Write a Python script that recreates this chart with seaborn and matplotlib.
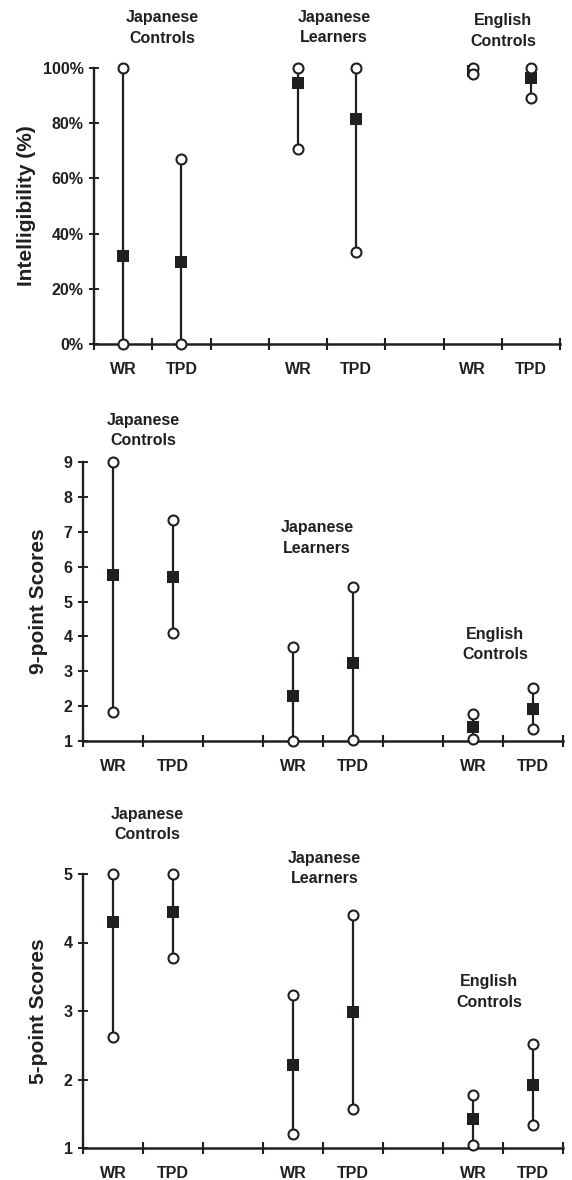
import matplotlib
matplotlib.use("Agg")
from matplotlib import pyplot as plt
import numpy as np
import pandas as pd
import seaborn as sns

# groups and conditions on the x axis
groups = ["Japanese\nControls", "Japanese\nLearners", "English\nControls"]
conditions = ["WR", "TPD"]

# intelligibility (%): mean, max, min per group x condition
intel_mean = [31.8, 29.7, 94.7, 81.5, 99.0, 96.4]
intel_max = [100, 67.1, 100, 100, 100, 100]
intel_min = [0, 0, 70.7, 33.4, 97.7, 89.2]

# 9-point scores
nine_mean = [5.75, 5.70, 2.28, 3.23, 1.40, 1.91]
nine_max = [9.0, 7.33, 3.70, 5.43, 1.78, 2.52]
nine_min = [1.83, 4.11, 1.0, 1.03, 1.05, 1.33]

# 5-point scores
five_mean = [4.30, 4.44, 2.21, 2.98, 1.42, 1.92]
five_max = [5.0, 5.0, 3.23, 4.40, 1.78, 2.52]
five_min = [2.62, 3.77, 1.21, 1.57, 1.05, 1.34]

intel_ticks = [0, 20, 40, 60, 80, 100]
intel_ticklabels = ["0%", "20%", "40%", "60%", "80%", "100%"]
nine_ticks = [1, 2, 3, 4, 5, 6, 7, 8, 9]
five_ticks = [1, 2, 3, 4, 5]

INK = "#231f20"
FONT = ["Liberation Sans", "DejaVu Sans"]

sns.set_theme(style="ticks")
plt.rcParams["font.family"] = FONT
plt.rcParams["font.weight"] = "bold"
plt.rcParams["text.color"] = INK
plt.rcParams["axes.labelcolor"] = INK
plt.rcParams["xtick.color"] = INK
plt.rcParams["ytick.color"] = INK
plt.rcParams["axes.edgecolor"] = INK


def make_frame(means, maxs, mins):
    rows = []
    for gi, g in enumerate(groups):
        for ci, c in enumerate(conditions):
            k = gi * 2 + ci
            rows.append({"group": g, "cond": c, "x": gi * 3 + ci + 0.5,
                         "mean": means[k], "max": maxs[k], "min": mins[k]})
    return pd.DataFrame(rows)


def draw_panel(ax, df, ylim, yticks, yticklabels, ylabel, label_xy, ylabel_x):
    ax.vlines(df["x"], df["min"], df["max"], color=INK, lw=1.6, zorder=2)
    sns.scatterplot(data=df, x="x", y="mean", marker="s", s=8.6 ** 2,
                    color=INK, linewidth=0, ax=ax, zorder=3, clip_on=False)
    long = df.melt(id_vars=["x"], value_vars=["max", "min"], value_name="v")
    sns.scatterplot(data=long, x="x", y="v", marker="o", s=7.2 ** 2,
                    facecolor="white", edgecolor=INK, linewidth=1.5,
                    ax=ax, zorder=4, clip_on=False)

    ax.set_xlim(0, 8)
    ax.set_ylim(*ylim)
    ax.set_xticks(np.arange(0, 9))
    ax.set_xticklabels([])
    ax.set_xticks(df["x"], minor=True)
    ax.set_xticklabels(df["cond"], minor=True, fontsize=11.5, fontweight="bold")
    ax.tick_params(axis="x", which="major", direction="inout", length=8, width=1.5)
    ax.tick_params(axis="x", which="minor", length=0, pad=13)
    ax.set_yticks(yticks)
    ax.set_yticklabels(yticklabels, fontsize=11.5, fontweight="bold")
    ax.tick_params(axis="y", direction="inout", length=7, width=1.4, pad=4)

    ax.set_xlabel("")
    ax.set_ylabel(ylabel, fontsize=15, fontweight="bold")
    ax.yaxis.set_label_coords(ylabel_x, 0.5)

    for spine in ["top", "right"]:
        ax.spines[spine].set_visible(False)
    ax.spines["left"].set_linewidth(1.7)
    ax.spines["bottom"].set_linewidth(1.8)

    for g, (tx, ty) in zip(groups, label_xy):
        ax.text(tx, ty, g, ha="center", va="center", fontsize=11.5,
                fontweight="bold", linespacing=1.45, clip_on=False)


fig = plt.figure(figsize=(5.72, 11.8), dpi=100)
W, H = 572, 1180
ax1 = fig.add_axes([94 / W, 1 - 344 / H, 466 / W, 276 / H])
ax2 = fig.add_axes([83 / W, 1 - 741 / H, 480 / W, 279 / H])
ax3 = fig.add_axes([83 / W, 1 - 1148 / H, 480 / W, 274 / H])

draw_panel(ax1, make_frame(intel_mean, intel_max, intel_min), (0, 100),
           intel_ticks, intel_ticklabels, "Intelligibility (%)",
           [(1.18, 114.5), (4.12, 114.7), (7.02, 113.4)], -0.125)
draw_panel(ax2, make_frame(nine_mean, nine_max, nine_min), (1, 9),
           nine_ticks, [str(t) for t in nine_ticks], "9-point Scores",
           [(1.0, 9.90), (3.9, 6.82), (6.87, 3.77)], -0.073)
draw_panel(ax3, make_frame(five_mean, five_max, five_min), (1, 5),
           five_ticks, [str(t) for t in five_ticks], "5-point Scores",
           [(1.07, 5.72), (4.03, 5.08), (6.77, 3.28)], -0.073)

fig.savefig("out.png", dpi=100)
